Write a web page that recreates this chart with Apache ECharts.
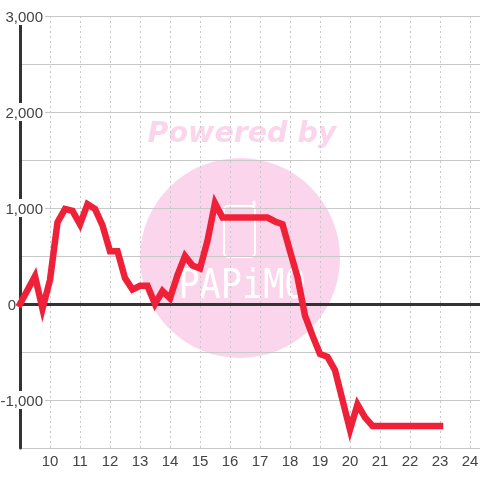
<!DOCTYPE html>
<html><head><meta charset="utf-8">
<style>html,body{margin:0;padding:0;background:#fff}#c{width:480px;height:480px}</style>
<script src="https://cdn.jsdelivr.net/npm/echarts@6/dist/echarts.min.js"></script>
</head><body><div id="c"></div>
<script>
const hours = [9,9.5,9.75,10,10.25,10.5,10.75,11,11.25,11.5,11.75,12,12.25,12.5,12.75,13,13.25,13.5,13.75,14,14.25,14.5,14.75,15,15.25,15.5,15.75,16,16.5,17,17.25,17.5,17.75,18,18.25,18.5,18.75,19,19.25,19.5,19.75,20,20.25,20.5,20.75,21,22,23];
const values = [0,290,-50,250,850,990,970,830,1040,990,820,550,550,270,150,190,190,0,135,60,300,500,400,370,660,1050,900,900,900,900,900,860,830,550,280,-120,-330,-520,-550,-690,-1000,-1310,-1045,-1180,-1270,-1270,-1270,-1270];
const yLabels = [3000,2000,1000,0,-1000];
const pink = '#fbd5ec';
const textColor = '#444';
const chart = echarts.init(document.getElementById('c'));
chart.setOption({
  animation:false,
  backgroundColor:'#fff',
  grid:{left:20,right:0,top:16,bottom:32,outerBoundsMode:'none'},
  graphic:[
    {type:'circle',z:-10,silent:true,shape:{cx:240,cy:258,r:100},style:{fill:pink}},
    {type:'text',z:-9,silent:true,x:242,y:135,style:{text:'Powered by',fill:pink,font:'italic bold 28.5px "DejaVu Sans"',align:'center',verticalAlign:'middle'}},
    {type:'rect',z:-9,silent:true,shape:{x:224,y:206,width:31,height:51,r:4},style:{fill:'none',stroke:'#fff',lineWidth:2}},
    {type:'line',z:-9,silent:true,shape:{x1:254,y1:206,x2:254,y2:201},style:{stroke:'#fff',lineWidth:3}},
    {type:'text',z:-9,silent:true,x:242,y:288,scaleX:0.88,style:{text:'PAPiMO',fill:'#fff',font:'40px "DejaVu Sans Mono"',align:'center',verticalAlign:'middle'}}
  ],
  xAxis:[
    {type:'value',min:9,max:24.3333,interval:1,
     axisLine:{show:false,onZero:false},axisTick:{show:false},
     axisLabel:{color:textColor,fontFamily:'Liberation Sans',fontSize:15,margin:6,showMinLabel:false,showMaxLabel:false,formatter:v=>Number.isInteger(v)?String(v):''},
     splitLine:{show:true,lineStyle:{color:'#c8c8c8',type:[2,3],width:1}}},
    {type:'value',min:9,max:24.3333,interval:1,
     axisLine:{show:true,onZero:true,lineStyle:{color:'#333',width:3}},axisTick:{show:false},axisLabel:{show:false},splitLine:{show:false}}
  ],
  yAxis:{type:'value',min:-1500,max:3000,interval:500,
    axisLine:{show:true,onZero:false,lineStyle:{color:'#333',width:3}},axisTick:{show:false},
    axisLabel:{color:textColor,fontFamily:'Liberation Sans',fontSize:15,margin:-25,align:'right',showMinLabel:false,
      formatter:v=>{
        if(!yLabels.includes(v)) return '';
        return v===0 ? '{z|0}' : '{b|'+v.toLocaleString('en-US')+'}';
      },
      rich:{
        b:{color:textColor,fontFamily:'Liberation Sans',fontSize:15,lineHeight:12,backgroundColor:'#fff',padding:[3,2,0,0]},
        z:{color:textColor,fontFamily:'Liberation Sans',fontSize:15,lineHeight:12,padding:[3,29,0,0]}
      }},
    splitLine:{show:true,lineStyle:{color:'#c8c8c8',width:1}}},
  series:[{type:'line',xAxisIndex:0,data:hours.map((h,i)=>[h,values[i]]),showSymbol:false,clip:false,z:5,
    lineStyle:{color:'#ef2138',width:6.5,join:'miter',cap:'square'}}]
});
</script></body></html>
